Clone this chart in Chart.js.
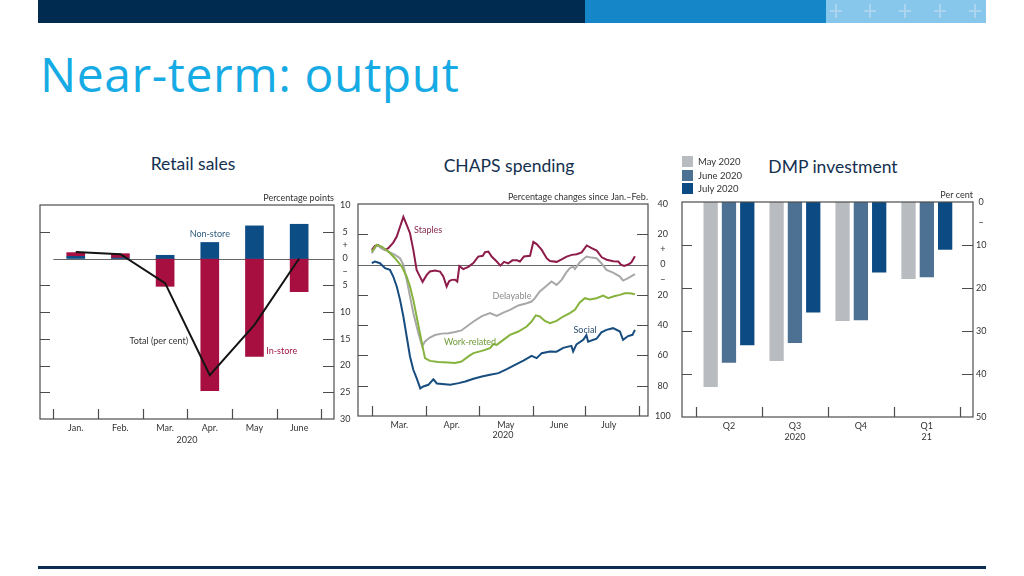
<!DOCTYPE html>
<html lang="en">
<head>
<meta charset="UTF-8">
<title>Near-term: output</title>
<script src="https://cdn.jsdelivr.net/npm/chart.js@4.4.0/dist/chart.umd.min.js"></script>
<style>
  body { margin: 0; width: 1024px; height: 576px; position: relative; overflow: hidden; background: #fff; font-family: "Open Sans", sans-serif; }
  .band { position: absolute; top: 0; height: 23px; }
  .cross { position: absolute; background: #aad4f0; }
  h1 { position: absolute; left: 40px; top: 50px; margin: 0; font: 48px/48px "Open Sans", sans-serif; letter-spacing: 0.6px; color: #16abe4; font-weight: normal; }
  .ctitle { position: absolute; width: 220px; text-align: center; font: 17.5px/17px Lato, sans-serif; color: #14304f; }
  canvas { position: absolute; }
  .legend { position: absolute; left: 682px; top: 155px; font: 9.5px Lato, sans-serif; color: #333; }
  .legend div { height: 13.5px; display: flex; align-items: center; }
  .legend span { display: inline-block; width: 11px; height: 11px; margin-right: 5px; }
  .rule { position: absolute; left: 38px; width: 948px; top: 566px; height: 3px; background: #0b2d52; }
</style>
</head>
<body>
<div class="band" style="left:38px;width:547px;background:#002b51"></div>
<div class="band" style="left:585px;width:241px;background:#1586c8"></div>
<div class="band" style="left:826px;width:160px;background:#88c7ec"></div>
<div id="crosses"></div>

<h1>Near-term: output</h1>

<div class="ctitle" style="left:83px;top:155px">Retail sales</div>
<div class="ctitle" style="left:399px;top:157px">CHAPS spending</div>
<div class="ctitle" style="left:723px;top:158px">DMP investment</div>

<canvas id="retail" width="340" height="265" style="left:30px;top:185px"></canvas>
<canvas id="chaps" width="335" height="265" style="left:350px;top:185px"></canvas>
<canvas id="dmp" width="340" height="265" style="left:670px;top:185px"></canvas>
<div class="legend" id="dmpLegend"></div>

<div class="rule"></div>

<script>
// ---- Retail sales (percentage points / per cent) ----
const retailMonths = ['Jan.', 'Feb.', 'Mar.', 'Apr.', 'May', 'June'];
const nonStore = [0.4, 0.1, 0.6, 3.0, 6.1, 6.4];
const inStore = [0.7, 0.8, -5.2, -24.7, -18.3, -6.2];
const totalSales = [1.2, 0.8, -4.6, -21.8, -12.4, 0.0];
const retailTicks = [10, 5, 2.5, 0, -2.5, -5, -10, -15, -20, -25, -30];

// ---- CHAPS spending, [days since 1 March, % change since Jan.-Feb.] ----
const chapsMonths = ['Mar.', 'Apr.', 'May', 'June', 'July'];
const chapsLabelDays = [15.5, 45.5, 76.5, 107, 135.5];
const chapsMonthStarts = [0, 31, 61, 92, 122, 153];
const chapsTicks = [40, 20, 10, 0, -10, -20, -40, -60, -80, -100];

const staples = [
  [-0.3, 9.7], [1.5, 12.3], [3.4, 12.8], [5.4, 10.8], [7.3, 9.7], [9.2, 10.8], [12, 14.5], [14, 18.5],
  [15.9, 25], [17.8, 31.5], [19.7, 26.2], [21.6, 20.7], [23.5, 9.7], [25.4, -3.5], [27.3, -8], [28.8, -11.4],
  [31.2, -6.8], [33, -4.6], [35.9, -4], [38.8, -4.6], [40.7, -7.9], [42.6, -14.5], [44, -11], [45.5, -10.1],
  [47.4, -10], [48.7, -11.2], [49.9, -1], [52.1, -3], [55, -1.5], [57.9, 1], [60.7, 5.3], [63.3, 5.8],
  [64.6, 8.2], [66.5, 8.6], [68.4, 5.3], [71.3, 2], [73.4, -0.7], [75.5, 1.8], [77.9, 0.8], [80.3, 2.8],
  [82.9, 2.8], [84.6, 2], [86.9, 5.3], [90.4, 5.8], [92.3, 15], [94.2, 13.5], [97.1, 9.7], [99.9, 4.2],
  [101.8, 2.4], [105.7, 1.8], [108.5, 3.4], [111.4, 5.3], [114.3, 6.4], [117.1, 6.8], [120, 8], [122.9, 12.6],
  [125.7, 10.8], [128.6, 9.2], [131.5, 4.8], [134.3, 3.2], [138.1, 2.2], [141, 2], [142.5, 0], [144.3, -0.9],
  [146.7, 0], [148.5, 1.5], [150.5, 5.5]
];
const delayable = [
  [-0.3, 7.5], [2.5, 13], [5.4, 10.8], [9.2, 8.6], [13, 6.4], [15.9, 4.2], [17.8, -0.2], [19.7, -10.1],
  [21.6, -21], [23.5, -32], [26.4, -45.3], [28.6, -54], [30.2, -50.8], [33, -48.2], [35.9, -46.5], [39.8, -45.6],
  [43.6, -45.3], [47.4, -44.5], [51.1, -43.5], [53.3, -41.6], [58, -37.6], [62.8, -34], [67.5, -32.1], [71.3, -33.9],
  [75.1, -31.7], [78.9, -29.9], [83.7, -27], [88.5, -25.5], [91.3, -24.4], [93.2, -22.2], [96, -17.8], [99.9, -14],
  [102.7, -11.2], [105.6, -13.4], [108.5, -10.1], [111.3, -5], [113.2, -2.4], [115.1, -1.3], [116.1, -3], [118.9, 1.5],
  [122.7, 5.3], [125.6, 4.6], [128.5, 4.2], [131.3, 0.9], [134.2, -3.5], [138, -5.3], [141.9, -7.9], [143.7, -10.6],
  [146.6, -9], [150.5, -6.3]
];
const workRelated = [
  [-0.3, 8.6], [2.5, 13], [5.4, 11.9], [9.2, 8.6], [13, 4.2], [16.9, -1.3], [19.7, -7.9], [21.6, -14.5],
  [23.5, -23.3], [25.4, -34.3], [27.3, -45.3], [29.2, -56.3], [30.2, -61.8], [33, -63.6], [37.8, -64.4], [43.6, -64.7],
  [47.4, -65], [51.1, -64], [55.9, -60], [58, -58.5], [62.8, -57], [67.5, -55.2], [69.4, -52.5], [71.3, -53],
  [75.1, -49.7], [78.9, -46.4], [83.7, -44.2], [88.5, -40.9], [91.3, -37.6], [93.7, -33.5], [96, -34.3], [98.9, -37.2],
  [101.8, -38.7], [105.6, -37.2], [109.4, -34.3], [113.2, -32.1], [116.1, -29.9], [118.9, -25], [121.8, -22.2], [124.7, -23],
  [128.5, -22.2], [132.3, -20.5], [135.2, -22.2], [139, -20.8], [141.9, -20], [144.7, -18.9], [147.6, -18.9], [150.5, -19.6]
];
const social = [
  [-0.3, 0.9], [1.5, 2], [4.4, 0.9], [7.3, -2.4], [10.1, -3.5], [12, -7.9], [14, -14.5], [15.9, -23.3],
  [17.8, -34.3], [19.7, -47.5], [21.6, -60.7], [23.5, -69.5], [25.4, -75], [27.5, -81.8], [29.2, -80.5], [32.1, -79.4],
  [35, -75.8], [37, -78.5], [41.6, -79], [44.7, -79.4], [49.5, -78.3], [53.3, -77.2], [58, -75.4], [62.8, -73.9],
  [67.5, -72.8], [72.3, -71.7], [77.1, -69], [81.8, -66.2], [86.6, -63.4], [91.3, -60.3], [94.2, -61.8], [97.1, -58.5],
  [101.8, -57.4], [105.6, -57.5], [109.4, -55], [114.1, -53.7], [115.1, -57.4], [117, -52.7], [120.9, -49.7], [122.7, -46.6],
  [123.7, -51], [128.5, -49], [131.3, -44.8], [134.2, -43.1], [138, -42], [141.9, -44.2], [143.7, -49.7], [146.6, -47.2],
  [149.1, -46.4], [150.5, -43.1]
];

// ---- DMP investment expectations (per cent) ----
const dmpQuarters = ['Q2', 'Q3', 'Q4', 'Q1'];
const dmpYears = ['', '2020', '', '21'];
const dmpSurveys = ['May 2020', 'June 2020', 'July 2020'];
const dmpMay = [-43.0, -37.0, -27.7, -17.9];
const dmpJune = [-37.4, -32.8, -27.5, -17.5];
const dmpJuly = [-33.3, -25.7, -16.4, -11.1];
const dmpTicks = [0, -5, -10, -20, -30, -40, -50];

const FONT = { family: 'Lato, sans-serif', size: 9 };
const TXT = '#333';
const absLabel = v => (v === 2.5 ? '+' : v === -2.5 ? '\u2212' : Math.abs(v));

// frame, inner tick marks, zero line and in-chart labels
function axisFrame(o) {
  return {
    id: 'axisFrame',
    beforeDatasetsDraw(chart) {
      if (!o.zero) return;
      const { ctx, chartArea: a, scales: { x, y } } = chart;
      const py = Math.round(y.getPixelForValue(0)) + 0.5;
      ctx.save();
      ctx.strokeStyle = '#666';
      ctx.lineWidth = 1;
      ctx.beginPath();
      ctx.moveTo(o.zeroFrom == null ? a.left : x.getPixelForValue(o.zeroFrom), py);
      ctx.lineTo(a.right, py);
      ctx.stroke();
      ctx.restore();
    },
    afterDraw(chart) {
      const { ctx, chartArea: a, scales: { x, y } } = chart;
      ctx.save();
      ctx.strokeStyle = '#4d4d4d';
      ctx.lineWidth = 1.2;
      ctx.strokeRect(a.left, a.top, a.right - a.left, a.bottom - a.top);
      ctx.beginPath();
      o.yMarks.forEach(v => {
        const py = Math.round(y.getPixelForValue(v)) + 0.5;
        ctx.moveTo(a.left, py); ctx.lineTo(a.left + 10, py);
        ctx.moveTo(a.right - 11, py); ctx.lineTo(a.right, py);
      });
      o.xMarks.forEach(v => {
        const px = Math.round(x.getPixelForValue(v)) + 0.5;
        ctx.moveTo(px, a.bottom); ctx.lineTo(px, a.bottom - 10);
      });
      ctx.stroke();
      ctx.font = '9px Lato, sans-serif';
      ctx.fillStyle = TXT;
      ctx.textAlign = 'right';
      ctx.textBaseline = 'alphabetic';
      ctx.fillText(o.unit, a.right, a.top - 4);
      ctx.textBaseline = 'middle';
      o.notes.forEach(n => {
        ctx.fillStyle = n.color;
        ctx.textAlign = n.align || 'center';
        ctx.fillText(n.text, x.getPixelForValue(n.x), y.getPixelForValue(n.y));
      });
      ctx.restore();
    }
  };
}

const baseOpts = {
  responsive: false,
  animation: false,
  events: [],
  plugins: { legend: { display: false }, tooltip: { enabled: false } }
};

function xAxis(extra) {
  return Object.assign({
    type: 'linear',
    offset: false,
    grid: { display: false, drawTicks: false, offset: false },
    border: { display: false }
  }, extra);
}
function yAxis(extra) {
  return Object.assign({
    type: 'linear',
    position: 'right',
    grid: { display: false, drawTicks: false },
    border: { display: false }
  }, extra);
}

// Retail sales
new Chart(document.getElementById('retail'), {
  type: 'bar',
  data: {
    datasets: [
      { label: 'Non-store', data: nonStore.map((v, i) => ({ x: i, y: v })), backgroundColor: '#0d4d86', stack: 's', order: 1 },
      { label: 'In-store', data: inStore.map((v, i) => ({ x: i, y: v })), backgroundColor: '#a60f40', stack: 's', order: 1 },
      { type: 'line', label: 'Total (per cent)', data: totalSales.map((v, i) => ({ x: i, y: v })),
        borderColor: '#141414', borderWidth: 2, pointRadius: 0, tension: 0, stack: 't', order: 0 }
    ]
  },
  options: Object.assign({}, baseOpts, {
    layout: { padding: { left: 10, top: 20, right: 0, bottom: 0 } },
    datasets: { bar: { barThickness: 18 } },
    scales: {
      x: xAxis({
        min: -0.8, max: 5.78, stacked: true,
        afterBuildTicks: s => { s.ticks = retailMonths.map((m, i) => ({ value: i })); },
        afterFit: s => { s.height = 31; },
        ticks: { font: FONT, color: TXT, autoSkip: false, maxRotation: 0, padding: 3.5, callback: v => retailMonths[v] },
        title: { display: true, text: '2020', font: FONT, color: TXT, padding: { top: 0, bottom: 4.6 } }
      }),
      y: yAxis({
        min: -30, max: 10, stacked: true,
        afterBuildTicks: s => { s.ticks = retailTicks.map(v => ({ value: v })); },
        afterFit: s => { s.width = 36; },
        ticks: { font: FONT, color: TXT, padding: 6, crossAlign: 'center', callback: absLabel }
      })
    }
  }),
  plugins: [axisFrame({
    zero: true, zeroFrom: -0.5,
    yMarks: [5, -5, -10, -15, -20, -25],
    xMarks: [-0.5, 0.5, 1.5, 2.5, 3.5, 4.5, 5.5],
    unit: 'Percentage points',
    notes: [
      { text: 'Non-store', x: 3.0, y: 4.5, color: '#2f5b7c' },
      { text: 'Total (per cent)', x: 1.86, y: -15.4, color: '#333' },
      { text: 'In-store', x: 4.61, y: -17.4, color: '#a3174b' }
    ]
  })]
});

// CHAPS spending
const chapsSeries = [
  { label: 'Staples', data: staples, color: '#8e1c4a' },
  { label: 'Delayable', data: delayable, color: '#a8a8a8' },
  { label: 'Work-related', data: workRelated, color: '#86b33d' },
  { label: 'Social', data: social, color: '#164c7e' }
];
new Chart(document.getElementById('chaps'), {
  type: 'line',
  data: {
    datasets: chapsSeries.map(s => ({
      label: s.label,
      data: s.data.map(p => ({ x: p[0], y: p[1] })),
      borderColor: s.color, borderWidth: 2, pointRadius: 0, tension: 0
    })).reverse()
  },
  options: Object.assign({}, baseOpts, {
    layout: { padding: { left: 8, top: 19, right: 0, bottom: 0 } },
    scales: {
      x: xAxis({
        min: -8.2, max: 158,
        afterBuildTicks: s => { s.ticks = chapsLabelDays.map(d => ({ value: d })); },
        afterFit: s => { s.height = 34; },
        ticks: { font: FONT, color: TXT, autoSkip: false, maxRotation: 0, padding: 4,
                 callback: (v, i) => chapsMonths[i] },
        title: { display: true, text: '2020', font: FONT, color: TXT, padding: { top: 0, bottom: 9.6 } }
      }),
      y: yAxis({
        min: -100, max: 40,
        afterBuildTicks: s => { s.ticks = chapsTicks.map(v => ({ value: v })); },
        afterFit: s => { s.width = 37; },
        ticks: { font: FONT, color: TXT, padding: 7, crossAlign: 'center',
                 callback: v => (v === 10 ? '+' : v === -10 ? '\u2212' : Math.abs(v)) }
      })
    }
  }),
  plugins: [axisFrame({
    zero: true,
    yMarks: [20, -20, -40, -60, -80],
    xMarks: chapsMonthStarts,
    unit: 'Percentage changes since Jan.\u2013Feb.',
    notes: [
      { text: 'Staples', x: 23.9, y: 22.9, color: '#8a2b50', align: 'left' },
      { text: 'Delayable', x: 80, y: -20.7, color: '#8c8c8c' },
      { text: 'Work-related', x: 56, y: -51, color: '#6e9a36' },
      { text: 'Social', x: 121.9, y: -43, color: '#2d4f70' }
    ]
  })]
});

// DMP investment
const dmpColors = ['#b8bbbf', '#4d7192', '#0b4a83'];
const dmpValues = [dmpMay, dmpJune, dmpJuly];
new Chart(document.getElementById('dmp'), {
  type: 'bar',
  data: {
    datasets: dmpSurveys.map((name, k) => ({
      label: name,
      data: dmpValues[k].map((v, i) => ({ x: i, y: v })),
      backgroundColor: dmpColors[k]
    }))
  },
  options: Object.assign({}, baseOpts, {
    layout: { padding: { left: 12, top: 17, right: 0, bottom: 0 } },
    datasets: { bar: { categoryPercentage: 0.833, barPercentage: 0.78 } },
    scales: {
      x: xAxis({
        min: -0.712, max: 3.70,
        afterBuildTicks: s => { s.ticks = dmpQuarters.map((q, i) => ({ value: i })); },
        afterFit: s => { s.height = 33; },
        ticks: { font: FONT, color: TXT, autoSkip: false, maxRotation: 0, padding: 3.5,
                 callback: v => [dmpQuarters[v], dmpYears[v]] }
      }),
      y: yAxis({
        min: -50, max: 0,
        afterBuildTicks: s => { s.ticks = dmpTicks.map(v => ({ value: v })); },
        afterFit: s => { s.width = 37; },
        ticks: { font: FONT, color: TXT, padding: 3, crossAlign: 'center',
                 callback: v => (v === -5 ? '\u2212' : Math.abs(v)) }
      })
    }
  }),
  plugins: [axisFrame({
    zero: false,
    yMarks: [-10, -20, -30, -40],
    xMarks: [-0.5, 0.5, 1.5, 2.5, 3.5],
    unit: 'Per cent',
    notes: []
  })]
});

// legend for the survey waves
const legend = document.getElementById('dmpLegend');
dmpSurveys.forEach((name, k) => {
  const row = document.createElement('div');
  row.innerHTML = '<span style="background:' + dmpColors[k] + '"></span>' + name;
  legend.appendChild(row);
});

// faint crosses in the light band
const crosses = document.getElementById('crosses');
[836, 870, 905, 940, 975].forEach(cx => {
  crosses.insertAdjacentHTML('beforeend',
    '<div class="cross" style="left:' + (cx - 1) + 'px;top:4px;width:2px;height:14px"></div>' +
    '<div class="cross" style="left:' + (cx - 6) + 'px;top:10px;width:12px;height:2px"></div>');
});
</script>
</body>
</html>
